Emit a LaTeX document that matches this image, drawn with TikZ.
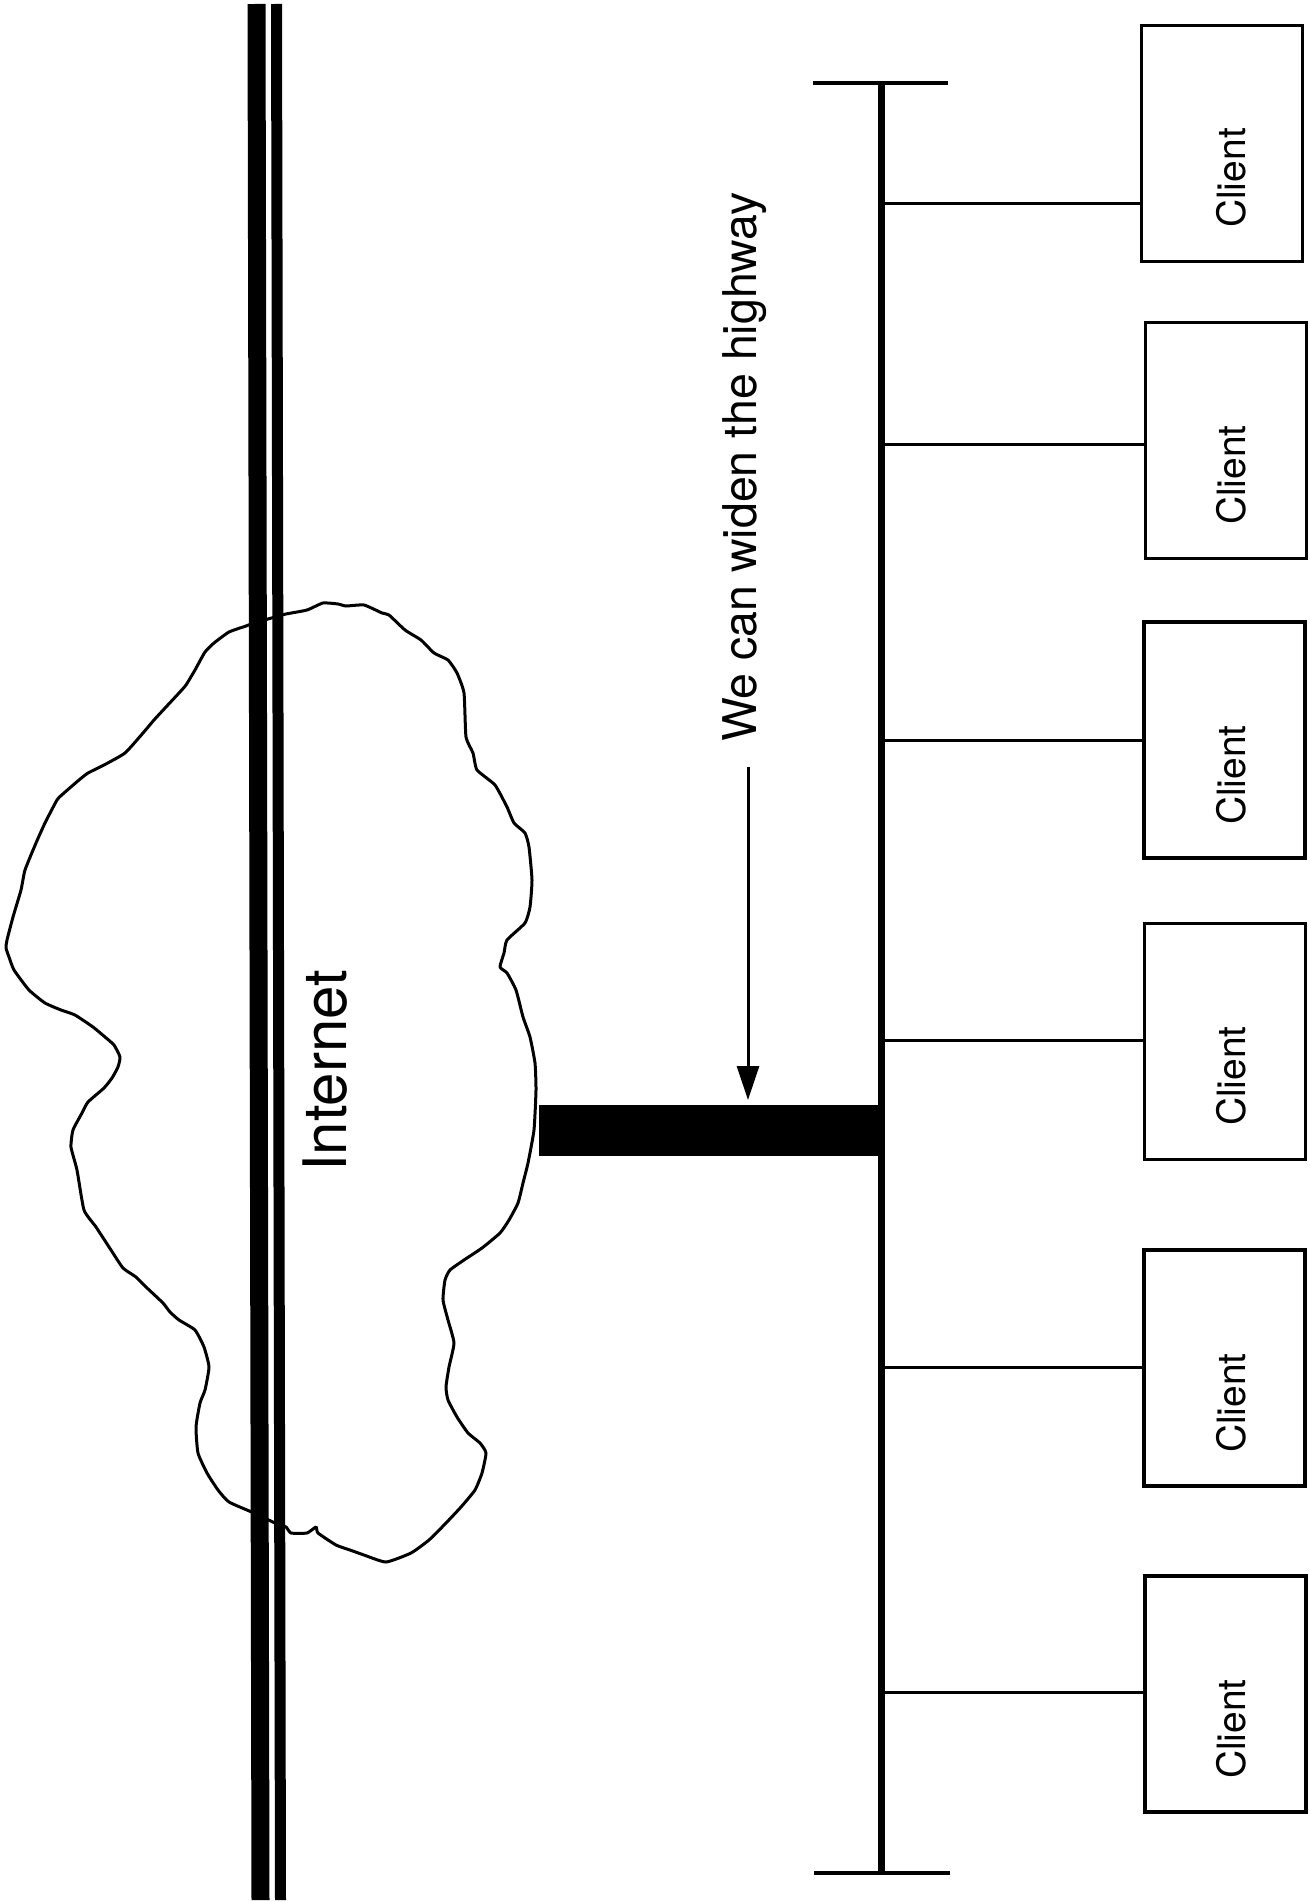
\documentclass[tikz,border=0pt]{standalone}
\usepackage{fontspec}
\setmainfont{TeX Gyre Heros}
\usetikzlibrary{arrows.meta,calc}
\begin{document}
\begin{tikzpicture}[x=1pt,y=-1pt,
  cloudline/.style={line width=3pt,line join=round},
  roadthick/.style={line width=18pt},
  roadthin/.style={line width=11pt},
  busline/.style={line width=7pt},
  capline/.style={line width=4.5pt},
  conn/.style={line width=3pt},
  clientbox/.style={draw,line width=3.2pt,inner sep=0pt,minimum width=161pt,minimum height=236pt},
  clienttext/.style={rotate=90,inner sep=0pt,font=\fontsize{39}{39}\selectfont},
  bigtext/.style={rotate=90,inner sep=0pt,font=\fontsize{60}{60}\selectfont},
  notetext/.style={rotate=90,inner sep=0pt,font=\fontsize{46.5}{46.5}\selectfont},
  widebar/.style={fill=black,inner sep=0pt,minimum width=344pt,minimum height=51pt},
  arrowline/.style={line width=3pt,-{Triangle[length=34pt,width=22pt]}}
]
\useasboundingbox[fill=white] (0,0) rectangle (1309,1902);

% cloud
\draw[cloudline] plot[smooth cycle,tension=0.3] coordinates {
(205,652) (214,643) (229,632) (246,626) (254,623) (275,617) (286,614) (307,610)
(323,603) (338,604) (346,606) (364,605) (382,613) (389,615) (405,630) (421,640)
(434,653) (448,660) (457,673) (464,693) (466,737) (473,753) (477,770) (495,785)
(507,807) (514,823) (525,833) (529,847) (532,880) (530,907) (525,923) (507,940)
(504,953) (500,967) (507,973) (516,990) (523,1017) (530,1037) (535,1063) (536,1090)
(534,1130) (528,1163) (523,1183) (518,1203) (509,1220) (500,1233) (482,1248)
(464,1260) (450,1270) (445,1280) (443,1300) (448,1320) (454,1343) (449,1367)
(446,1387) (448,1400) (457,1417) (468,1433) (480,1443) (486,1453) (482,1473)
(475,1490) (461,1507) (446,1523) (429,1540) (411,1553) (386,1562) (364,1555)
(350,1550) (336,1545) (318,1533) (316,1527) (307,1533) (291,1533) (286,1527)
(275,1523) (254,1513) (229,1502) (218,1490) (207,1473) (198,1453) (196,1427)
(200,1403) (205,1390) (209,1367) (204,1347) (195,1330) (179,1320) (170,1312)
(163,1303) (146,1287) (136,1277) (123,1268) (111,1250) (96,1227) (84,1210)
(77,1170) (71,1147) (73,1130) (82,1113) (88,1102) (104,1088) (112,1078)
(118,1067) (120,1057) (114,1045) (105,1037) (93,1027) (75,1015) (61,1010)
(45,1003) (29,990) (14,970) (9,957) (6,948) (7,940) (13,917) (21,890) (25,870)
(36,843) (45,823) (57,800) (64,793) (79,780) (88,773) (104,765) (125,753)
(143,733) (154,720) (166,707) (179,693) (186,685) (195,670)};

% double road lines
\coordinate (ra1) at (256.5,4);
\coordinate (ra2) at (260.5,1900);
\coordinate (rb1) at (276.5,4);
\coordinate (rb2) at (280.5,1900);
\draw[roadthick] (ra1) -- (ra2);
\draw[roadthin] (rb1) -- (rb2);

\node[bigtext] (inet) at (325,1071) {Internet};

% bus
\coordinate (bt) at (881,83);
\coordinate (bb) at (881,1873);
\draw[busline] (bt) -- (bb);
\coordinate (ctl) at (813,83);
\coordinate (ctr) at (948,83);
\coordinate (cbl) at (814,1873);
\coordinate (cbr) at (950,1873);
\draw[capline] (ctl) -- (ctr);
\draw[capline] (cbl) -- (cbr);

% wide link
\node[widebar] (bar) at (711,1130.5) {};

% arrow and note
\coordinate (as) at (748,767);
\coordinate (ae) at (748,1100);
\draw[arrowline] (as) -- (ae);
\node[notetext] (note) at (745,467) {We can widen the highway};

% clients
\node[clientbox] (c1) at (1222,143.5) {};
\node[clientbox] (c2) at (1226,440.5) {};
\node[clientbox] (c3) at (1224.5,740) {};
\node[clientbox] (c4) at (1225,1041.5) {};
\node[clientbox] (c5) at (1224.5,1368) {};
\node[clientbox] (c6) at (1225.5,1694) {};
\node[clienttext] (l1) at (1231,178) {Client};
\node[clienttext] (l2) at (1231,475) {Client};
\node[clienttext] (l3) at (1231,775) {Client};
\node[clienttext] (l4) at (1231,1076) {Client};
\node[clienttext] (l5) at (1231,1403) {Client};
\node[clienttext] (l6) at (1231,1729) {Client};

\coordinate (j1) at (881,204);
\coordinate (j2) at (881,444);
\coordinate (j3) at (881,740);
\coordinate (j4) at (881,1040);
\coordinate (j5) at (881,1367);
\coordinate (j6) at (881,1692);
\draw[conn] (j1) -- (j1 -| c1.west);
\draw[conn] (j2) -- (j2 -| c2.west);
\draw[conn] (j3) -- (j3 -| c3.west);
\draw[conn] (j4) -- (j4 -| c4.west);
\draw[conn] (j5) -- (j5 -| c5.west);
\draw[conn] (j6) -- (j6 -| c6.west);
\end{tikzpicture}
\end{document}
